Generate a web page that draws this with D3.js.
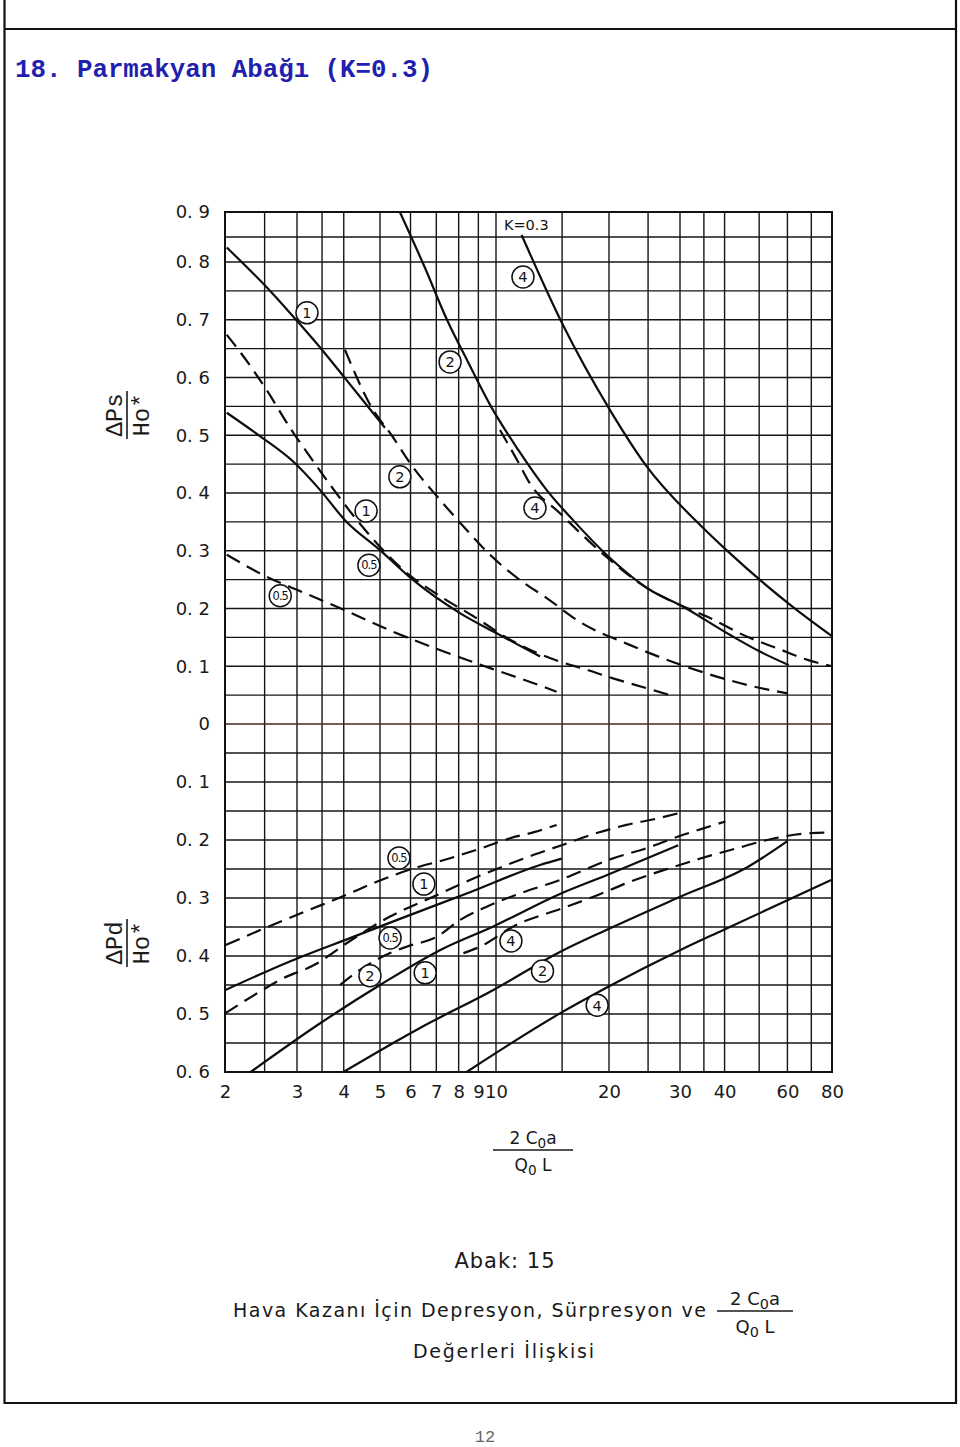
<!DOCTYPE html>
<html>
<head>
<meta charset="utf-8">
<title>Parmakyan Abağı (K=0.3)</title>
<script src="https://cdn.jsdelivr.net/npm/d3@7"></script>
<style>
  body { margin: 0; background: #fff; }
  svg { display: block; }
</style>
</head>
<body>
<script>

// x axis: 2 Co a / Qo L (log paper)
var xTicks = [2, 3, 4, 5, 6, 7, 8, 9, 10, 20, 30, 40, 60, 80];
var xGrid = [2, 2.5, 3, 3.5, 4, 5, 6, 7, 8, 9, 10, 15, 20, 25, 30, 35, 40, 50, 60, 70, 80];

// y axes: dPs/Ho* upwards, dPd/Ho* downwards
var psTicks = [0, 0.1, 0.2, 0.3, 0.4, 0.5, 0.6, 0.7, 0.8, 0.9];
var pdTicks = [0.1, 0.2, 0.3, 0.4, 0.5, 0.6];

// upper half: depression curves [x, dPs/Ho*]
var psSolid05 = [[2.02,0.539],[2.44,0.498],[2.94,0.454],[3.46,0.405],[4.03,0.353],[5,0.301],[6.1,0.249],[8.06,0.192],[10.04,0.157],[13.1,0.117]];
var psSolid1 = [[2.02,0.829],[2.61,0.746],[3.02,0.696],[3.52,0.646],[4.03,0.599],[4.65,0.549],[5.15,0.513]];
var psSolid2 = [[5.63,0.9],[6.54,0.79],[7.46,0.7],[8.46,0.627],[9.76,0.547],[11.45,0.475],[13.65,0.405],[16.2,0.35],[19.7,0.293],[25.3,0.232],[30,0.206],[41.5,0.154],[50.4,0.125],[60.5,0.102]];
var psSolid4 = [[11.7,0.854],[15,0.694],[20.1,0.544],[24.8,0.446],[34.5,0.342],[41,0.298],[51,0.246],[62.6,0.201],[80,0.152]];
var psDash05 = [[2.02,0.293],[2.53,0.255],[3.06,0.23],[4.03,0.197],[5.4,0.16],[7.29,0.126],[9.82,0.095],[12.07,0.075],[14.5,0.056]];
var psDash1 = [[2.02,0.674],[2.19,0.642],[2.53,0.578],[2.89,0.512],[3.25,0.463],[3.71,0.411],[4.16,0.368],[4.9,0.313],[5.63,0.272],[7.29,0.218],[8.72,0.187],[10.9,0.146],[13.1,0.121],[14.8,0.108],[17.45,0.094],[20.46,0.079],[24.8,0.062],[28.3,0.05]];
var psDash2 = [[4.03,0.648],[4.76,0.547],[5.36,0.5],[6.04,0.448],[7.16,0.388],[8.39,0.336],[9.65,0.293],[11.6,0.249],[13.65,0.218],[16.7,0.177],[22.5,0.137],[31.3,0.099],[48.2,0.065],[60,0.053]];
var psDash4 = [[10.25,0.509],[11.45,0.454],[12.3,0.417],[14.8,0.365],[19.4,0.293],[25.3,0.232],[30,0.206],[35.7,0.186],[46.3,0.151],[56.2,0.131],[68.3,0.111],[80,0.1]];

// lower half: surpression curves [x, dPd/Ho*]
var pdSolid05 = [[2,0.459],[2.89,0.409],[4.24,0.367],[5.63,0.336],[8.56,0.29],[13.1,0.243],[14.96,0.232]];
var pdSolid1 = [[2.31,0.6],[3.46,0.516],[5,0.45],[7.3,0.387],[9.84,0.349],[14.8,0.293],[20,0.259],[29.7,0.209]];
var pdSolid2 = [[3.99,0.6],[6.35,0.524],[9.82,0.459],[14.8,0.393],[20,0.353],[30,0.298],[46.3,0.247],[60,0.202]];
var pdSolid4 = [[8.39,0.6],[14.8,0.499],[19.9,0.453],[30,0.39],[39.7,0.355],[79.5,0.269]];
var pdDash05 = [[2.01,0.381],[2.56,0.349],[3.22,0.321],[3.95,0.298],[4.9,0.272],[6.1,0.249],[7.37,0.234],[9.18,0.214],[10.9,0.197],[12.7,0.186],[14.5,0.174]];
var pdDash1 = [[2,0.499],[2.4,0.464],[2.73,0.441],[3.39,0.413],[4.07,0.378],[5.31,0.332],[6.87,0.298],[8.56,0.269],[10.68,0.243],[12.55,0.226],[14.96,0.209],[18.54,0.188],[22.1,0.174],[26.3,0.163],[29.7,0.154]];
var pdDash2 = [[3.91,0.45],[4.42,0.424],[5.31,0.395],[5.86,0.384],[7.02,0.367],[8.06,0.338],[9.46,0.315],[11.59,0.292],[14.8,0.269],[20,0.234],[25.3,0.212],[29.7,0.194],[34.9,0.18],[40.2,0.168]];
var pdDash4 = [[8.23,0.395],[9.09,0.384],[11.12,0.349],[14.96,0.318],[18.17,0.298],[22.55,0.272],[27.3,0.252],[34.2,0.232],[43.4,0.214],[52.7,0.2],[66.8,0.189],[80,0.187]];

// circled curve labels [text, x, value]
var psLabels = [["1",3.19,0.712],["2",7.6,0.627],["4",11.8,0.774],["2",5.63,0.428],["1",4.59,0.369],["0.5",4.67,0.275],["0.5",2.73,0.222],["4",12.7,0.374]];
var pdLabels = [["0.5",5.6,0.231],["1",6.5,0.276],["0.5",5.31,0.369],["2",4.7,0.434],["1",6.55,0.429],["4",10.96,0.374],["2",13.3,0.426],["4",18.6,0.485]];

window.onload = function() {

    var svg = d3.select("body").append("svg")
        .attr("width", 960)
        .attr("height", 1447);

    // page frame of the scanned sheet
    var frame = [[4.5, 0, 4.5, 1404], [956, 0, 956, 1404], [4, 29, 957, 29], [4, 1403, 957, 1403]];
    svg.selectAll(".frame")
        .data(frame)
        .enter()
        .append("line")
        .attr("x1", function(d) { return d[0]; })
        .attr("y1", function(d) { return d[1]; })
        .attr("x2", function(d) { return d[2]; })
        .attr("y2", function(d) { return d[3]; })
        .attr("stroke", "#111")
        .attr("stroke-width", 2.2);

    svg.append("text")
        .attr("x", 15)
        .attr("y", 77)
        .attr("font-family", "Liberation Mono, Courier New, monospace")
        .attr("font-weight", "bold")
        .attr("font-size", "25.8px")
        .attr("fill", "#1f1fb0")
        .text("18. Parmakyan Abağı (K=0.3)");

    svg.append("text")
        .attr("x", 485)
        .attr("y", 1442)
        .attr("text-anchor", "middle")
        .attr("font-family", "Liberation Mono, monospace")
        .attr("font-size", "17px")
        .attr("fill", "#666")
        .text("12");

    // hand drawn log paper is not exactly logarithmic, so piecewise
    var x = d3.scaleLog()
        .domain([2, 3, 5, 10, 20, 30, 80])
        .range([225, 297, 380, 496, 609, 680, 832]);

    var yPs = d3.scaleLinear()
        .domain([0, 0.8, 0.9])
        .range([724, 262, 212]);

    var yPd = d3.scaleLinear()
        .domain([0, 0.6])
        .range([724, 1072]);

    var left = x(2), right = x(80), top = yPs(0.9), bottom = yPd(0.6);

    // grid
    var grid = svg.append("g").attr("stroke", "#161616").attr("stroke-width", 1.4);

    grid.selectAll(".vgrid")
        .data(xGrid)
        .enter()
        .append("line")
        .attr("x1", function(d) { return x(d); })
        .attr("x2", function(d) { return x(d); })
        .attr("y1", top)
        .attr("y2", bottom);

    grid.selectAll(".hgrid-ps")
        .data(d3.range(1, 18).map(function(i) { return i * 0.05; }))
        .enter()
        .append("line")
        .attr("x1", left)
        .attr("x2", right)
        .attr("y1", function(d) { return yPs(d); })
        .attr("y2", function(d) { return yPs(d); });

    grid.selectAll(".hgrid-pd")
        .data(d3.range(1, 12).map(function(i) { return i * 0.05; }))
        .enter()
        .append("line")
        .attr("x1", left)
        .attr("x2", right)
        .attr("y1", function(d) { return yPd(d); })
        .attr("y2", function(d) { return yPd(d); });

    svg.append("line")
        .attr("x1", left).attr("x2", right)
        .attr("y1", yPs(0)).attr("y2", yPs(0))
        .attr("stroke", "#4a2626")
        .attr("stroke-width", 1.5);

    svg.append("rect")
        .attr("x", left)
        .attr("y", top)
        .attr("width", right - left)
        .attr("height", bottom - top)
        .attr("fill", "none")
        .attr("stroke", "#111")
        .attr("stroke-width", 2);

    // axes (labels only, the grid is the frame)
    function styleAxis(g) {
        g.select(".domain").remove();
        g.selectAll("text")
            .attr("font-family", "DejaVu Sans, sans-serif")
            .attr("font-size", "18px")
            .attr("fill", "#1a1a1a");
    }

    var fmt = function(d) {
        return d === 0 ? "0" : d3.format(".1f")(d).replace(".", ". ");
    };

    svg.append("g")
        .attr("transform", "translate(" + left + ",0)")
        .call(d3.axisLeft(yPs).tickValues(psTicks).tickSize(0).tickPadding(15).tickFormat(fmt))
        .call(styleAxis);

    svg.append("g")
        .attr("transform", "translate(" + left + ",0)")
        .call(d3.axisLeft(yPd).tickValues(pdTicks).tickSize(0).tickPadding(15).tickFormat(fmt))
        .call(styleAxis);

    svg.append("g")
        .attr("transform", "translate(0," + bottom + ")")
        .call(d3.axisBottom(x).tickValues(xTicks).tickSize(0).tickPadding(13).tickFormat(d3.format("d")))
        .call(styleAxis);

    // curves
    function drawCurve(data, yScale, dashed) {
        var line = d3.line()
            .x(function(d) { return x(d[0]); })
            .y(function(d) { return yScale(d[1]); })
            .curve(d3.curveMonotoneX);

        svg.append("path")
            .datum(data)
            .attr("d", line)
            .attr("fill", "none")
            .attr("stroke", "#0d0d0d")
            .attr("stroke-width", 2.2)
            .attr("stroke-dasharray", dashed ? "15,8" : null);
    }

    drawCurve(psSolid05, yPs, false);
    drawCurve(psSolid1, yPs, false);
    drawCurve(psSolid2, yPs, false);
    drawCurve(psSolid4, yPs, false);
    drawCurve(psDash05, yPs, true);
    drawCurve(psDash1, yPs, true);
    drawCurve(psDash2, yPs, true);
    drawCurve(psDash4, yPs, true);

    drawCurve(pdSolid05, yPd, false);
    drawCurve(pdSolid1, yPd, false);
    drawCurve(pdSolid2, yPd, false);
    drawCurve(pdSolid4, yPd, false);
    drawCurve(pdDash05, yPd, true);
    drawCurve(pdDash1, yPd, true);
    drawCurve(pdDash2, yPd, true);
    drawCurve(pdDash4, yPd, true);

    // circled labels
    function drawLabels(labels, yScale) {
        var g = svg.selectAll(null)
            .data(labels)
            .enter()
            .append("g")
            .attr("transform", function(d) {
                return "translate(" + x(d[1]) + "," + yScale(d[2]) + ")";
            });

        g.append("circle")
            .attr("r", 11)
            .attr("fill", "#fff")
            .attr("stroke", "#111")
            .attr("stroke-width", 1.5);

        g.append("text")
            .attr("text-anchor", "middle")
            .attr("dy", "0.36em")
            .attr("font-family", "DejaVu Sans, sans-serif")
            .attr("font-size", function(d) { return d[0].length > 1 ? "11.5px" : "14.5px"; })
            .attr("letter-spacing", function(d) { return d[0].length > 1 ? "-1px" : null; })
            .attr("fill", "#111")
            .text(function(d) { return d[0]; });
    }

    drawLabels(psLabels, yPs);
    drawLabels(pdLabels, yPd);

    svg.append("text")
        .attr("x", x(10.5))
        .attr("y", yPs(0.864))
        .attr("font-family", "DejaVu Sans, sans-serif")
        .attr("font-size", "14.5px")
        .attr("fill", "#111")
        .text("K=0.3");

    // rotated y titles
    function yTitle(cy, top, sub) {
        var g = svg.append("g")
            .attr("transform", "translate(127," + cy + ") rotate(-90)")
            .attr("font-family", "Liberation Mono, Courier New, monospace")
            .attr("font-size", "24px")
            .attr("fill", "#1a1a1a")
            .attr("text-anchor", "middle");
        g.append("text").attr("y", -5).text(top);
        g.append("line")
            .attr("x1", -24).attr("x2", 24)
            .attr("stroke", "#1a1a1a").attr("stroke-width", 1.6);
        g.append("text").attr("y", 22).text(sub);
    }

    yTitle(415, "ΔPs", "Ho*");
    yTitle(943, "ΔPd", "Ho*");

    // 2 Co a / Qo L fraction
    function fraction(cx, cy, w, size) {
        var g = svg.append("g")
            .attr("transform", "translate(" + cx + "," + cy + ")")
            .attr("font-family", "DejaVu Sans, sans-serif")
            .attr("font-size", size + "px")
            .attr("fill", "#1a1a1a")
            .attr("text-anchor", "middle");
        var num = g.append("text").attr("y", -6);
        num.append("tspan").text("2 C");
        num.append("tspan").attr("dy", 4).attr("font-size", (size * 0.8) + "px").text("0");
        num.append("tspan").attr("dy", -4).text("a");
        g.append("line")
            .attr("x1", -w / 2).attr("x2", w / 2)
            .attr("stroke", "#1a1a1a").attr("stroke-width", 1.5);
        var den = g.append("text").attr("y", size + 4);
        den.append("tspan").text("Q");
        den.append("tspan").attr("dy", 4).attr("font-size", (size * 0.8) + "px").text("0");
        den.append("tspan").attr("dy", -4).text(" L");
    }

    fraction(533, 1150, 80, 17);
    fraction(755, 1311, 76, 18);

    var captions = [
        {text: "Abak: 15", x: 505, y: 1268, size: 21, anchor: "middle", len: null},
        {text: "Hava Kazanı İçin Depresyon, Sürpresyon ve", x: 233, y: 1317, size: 19, anchor: "start", len: 474},
        {text: "Değerleri İlişkisi", x: 413, y: 1358, size: 19, anchor: "start", len: 182}
    ];

    svg.selectAll(".caption")
        .data(captions)
        .enter()
        .append("text")
        .attr("x", function(d) { return d.x; })
        .attr("y", function(d) { return d.y; })
        .attr("text-anchor", function(d) { return d.anchor; })
        .attr("textLength", function(d) { return d.len; })
        .attr("lengthAdjust", "spacing")
        .attr("letter-spacing", "1px")
        .attr("font-family", "DejaVu Sans, sans-serif")
        .attr("font-size", function(d) { return d.size + "px"; })
        .attr("fill", "#1a1a1a")
        .text(function(d) { return d.text; });
};

</script>
</body>
</html>
